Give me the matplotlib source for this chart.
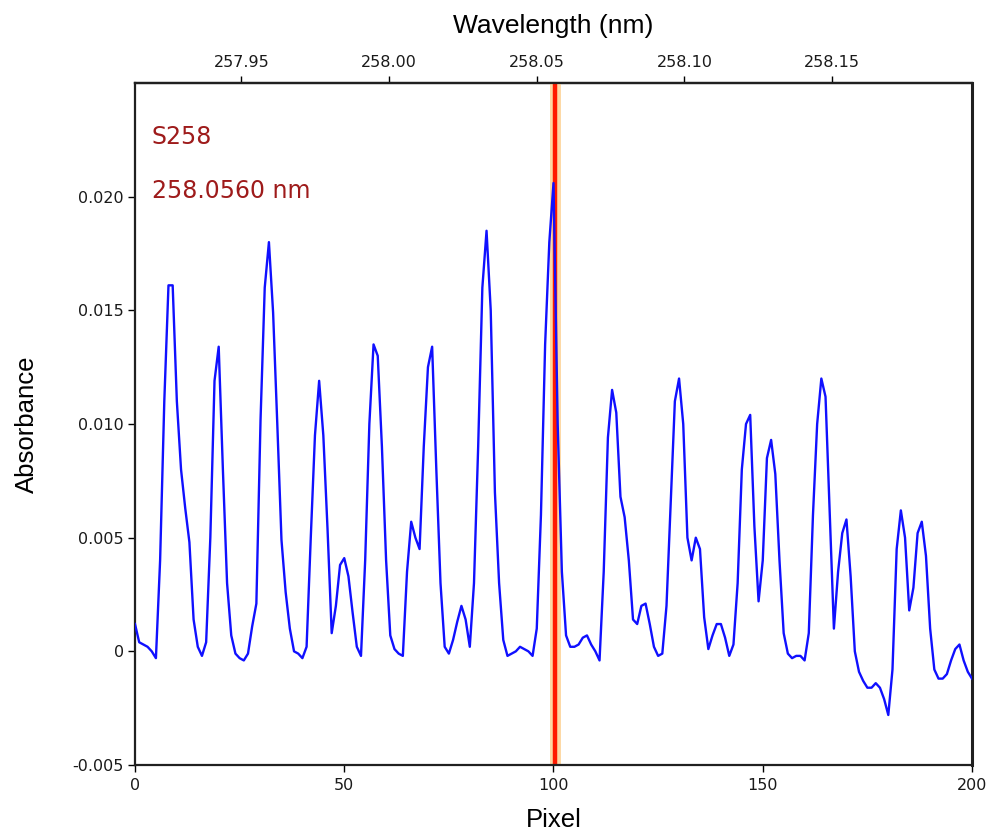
import matplotlib
matplotlib.use("Agg")
import matplotlib.pyplot as plt
from matplotlib.ticker import FixedLocator, FuncFormatter
import numpy as np

# ---- data ----
pixels = list(range(0, 201))
absorbance = [
    0.0012, 0.0004, 0.0003, 0.0002, 0.0000, -0.0003, 0.0040, 0.0110, 0.0161, 0.0161,   # 0-9
    0.0110, 0.0080, 0.0063, 0.0048, 0.0014, 0.0002, -0.0002, 0.0004, 0.0050, 0.0119,   # 10-19
    0.0134, 0.0080, 0.0030, 0.0007, -0.0001, -0.0003, -0.0004, -0.0001, 0.0011, 0.0021, # 20-29
    0.0102, 0.0160, 0.0180, 0.0149, 0.0100, 0.0049, 0.0026, 0.0010, 0.0000, -0.0001,   # 30-39
    -0.0003, 0.0002, 0.0050, 0.0095, 0.0119, 0.0095, 0.0054, 0.0008, 0.0020, 0.0038,   # 40-49
    0.0041, 0.0033, 0.0017, 0.0002, -0.0002, 0.0040, 0.0100, 0.0135, 0.0130, 0.0090,   # 50-59
    0.0040, 0.0007, 0.0001, -0.0001, -0.0002, 0.0035, 0.0057, 0.0050, 0.0045, 0.0090,  # 60-69
    0.0125, 0.0134, 0.0080, 0.0030, 0.0002, -0.0001, 0.0005, 0.0013, 0.0020, 0.0014,   # 70-79
    0.0002, 0.0030, 0.0090, 0.0160, 0.0185, 0.0150, 0.0070, 0.0030, 0.0005, -0.0002,   # 80-89
    -0.0001, 0.0000, 0.0002, 0.0001, 0.0000, -0.0002, 0.0010, 0.0060, 0.0135, 0.0180,  # 90-99
    0.0206, 0.0100, 0.0035, 0.0007, 0.0002, 0.0002, 0.0003, 0.0006, 0.0007, 0.0003,    # 100-109
    0.0000, -0.0004, 0.0035, 0.0094, 0.0115, 0.0105, 0.0068, 0.0059, 0.0040, 0.0014,   # 110-119
    0.0012, 0.0020, 0.0021, 0.0012, 0.0002, -0.0002, -0.0001, 0.0020, 0.0065, 0.0110,  # 120-129
    0.0120, 0.0100, 0.0050, 0.0040, 0.0050, 0.0045, 0.0015, 0.0001, 0.0007, 0.0012,    # 130-139
    0.0012, 0.0006, -0.0002, 0.0003, 0.0030, 0.0080, 0.0100, 0.0104, 0.0055, 0.0022,   # 140-149
    0.0040, 0.0085, 0.0093, 0.0078, 0.0040, 0.0008, -0.0001, -0.0003, -0.0002, -0.0002, # 150-159
    -0.0004, 0.0008, 0.0060, 0.0100, 0.0120, 0.0112, 0.0061, 0.0010, 0.0035, 0.0052,   # 160-169
    0.0058, 0.0033, 0.0000, -0.0009, -0.0013, -0.0016, -0.0016, -0.0014, -0.0016, -0.0021, # 170-179
    -0.0028, -0.0008, 0.0045, 0.0062, 0.0050, 0.0018, 0.0028, 0.0052, 0.0057, 0.0042,  # 180-189
    0.0010, -0.0008, -0.0012, -0.0012, -0.0010, -0.0004, 0.0001, 0.0003, -0.0004, -0.0009, # 190-199
    -0.0012,                                                                              # 200
]
marker_pixel = 100.4
marker_band = (99.2, 101.9)
line_name = "S258"
line_wavelength = "258.0560 nm"

y_ticks = [-0.005, 0, 0.005, 0.010, 0.015, 0.020]
y_tick_labels = ["-0.005", "0", "0.005", "0.010", "0.015", "0.020"]
x_ticks = [0, 50, 100, 150, 200]
wl_ticks = [257.95, 258.00, 258.05, 258.10, 258.15]

wl_ref_pixel = 96.0
wl_ref = 258.05
nm_per_pixel = 0.05 / 35.3


def pix2wl(p):
    return wl_ref + (np.asarray(p) - wl_ref_pixel) * nm_per_pixel


def wl2pix(w):
    return wl_ref_pixel + (np.asarray(w) - wl_ref) / nm_per_pixel


fig = plt.figure(figsize=(9.87, 8.30), dpi=100)
ax = fig.add_axes([135 / 987, 65 / 830, (972 - 135) / 987, (765 - 83) / 830])

ax.axvspan(marker_band[0], marker_band[1], color="#FDD9A6", lw=0, zorder=1)
ax.axvline(marker_pixel, color="#FF1A00", lw=3.2, zorder=2)
ax.plot(pixels, absorbance, color="#1010FF", lw=1.7, zorder=3)

ax.set_xlim(0, 200)
ax.set_ylim(-0.005, 0.025)
ax.yaxis.set_major_locator(FixedLocator(y_ticks))
ax.set_yticklabels(y_tick_labels)
ax.xaxis.set_major_locator(FixedLocator(x_ticks))

for lab in ax.get_xticklabels() + ax.get_yticklabels():
    lab.set_fontfamily("DejaVu Sans")
    lab.set_fontsize(11.5)
ax.tick_params(axis="both", direction="out", length=5, width=1, color="black",
               labelcolor="#1a1a1a")
ax.tick_params(axis="y", pad=3)
ax.tick_params(axis="x", pad=4)

for s in ax.spines.values():
    s.set_linewidth(1.6)
    s.set_color("#202020")
ax.spines["right"].set_linewidth(2.2)

secax = ax.secondary_xaxis("top", functions=(pix2wl, wl2pix))
secax.xaxis.set_major_locator(FixedLocator(wl_ticks))
secax.xaxis.set_major_formatter(FuncFormatter(lambda v, pos: f"{v:.2f}"))
secax.tick_params(direction="out", length=5, width=1, labelsize=11.5, labelcolor="#1a1a1a", pad=4)
for lab in secax.get_xticklabels():
    lab.set_fontfamily("DejaVu Sans")
secax.spines["top"].set_linewidth(1.6)
secax.set_xlabel("Wavelength (nm)", fontsize=19, family="Liberation Sans", labelpad=16)

ax.set_xlabel("Pixel", fontsize=18.5, family="Liberation Sans", labelpad=11)
ax.set_ylabel("Absorbance", fontsize=18.5, family="Liberation Sans", labelpad=24)

ax.text(0.02, 0.921, line_name, transform=ax.transAxes, color="#9E1B1B",
        fontsize=17, family="DejaVu Sans", va="center", ha="left")
ax.text(0.02, 0.842, line_wavelength, transform=ax.transAxes, color="#9E1B1B",
        fontsize=17, family="DejaVu Sans", va="center", ha="left")

fig.savefig("out.png", dpi=100, facecolor="white")
